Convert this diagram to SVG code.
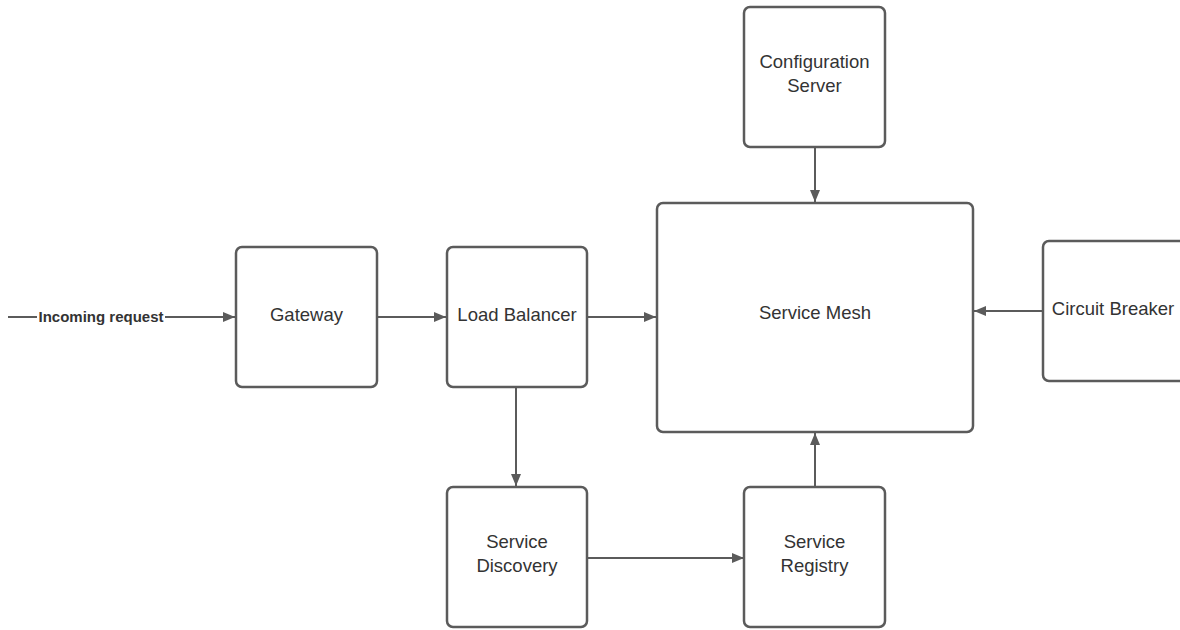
<svg xmlns="http://www.w3.org/2000/svg" width="1180" height="630" viewBox="0 0 1180 630">
<style>
.box{fill:#fff;stroke:#5b5b5b;stroke-width:2.5}
.lbl{font-family:"Liberation Sans",Arial,sans-serif;font-size:18.5px;fill:#333;text-anchor:middle}
.edge{stroke:#5b5b5b;stroke-width:2;fill:none}
.elbl{font-family:"Liberation Sans",Arial,sans-serif;font-size:15px;font-weight:bold;fill:#333;text-anchor:middle}
</style>
<defs>
<marker id="arr" viewBox="0 0 12 10" refX="12" refY="5" markerWidth="12" markerHeight="10" markerUnits="userSpaceOnUse" orient="auto">
<path d="M0,0 L12,5 L0,10 z" fill="#5b5b5b"/>
</marker>
</defs>
<rect width="1180" height="630" fill="#fff"/>
<g id="connectors">
<line class="edge" x1="8" y1="317" x2="235" y2="317" marker-end="url(#arr)"/>
<rect x="37" y="307" width="128" height="19" fill="#fff"/>
<text class="elbl" x="101" y="322">Incoming request</text>
<line class="edge" x1="377" y1="317" x2="446" y2="317" marker-end="url(#arr)"/>
<line class="edge" x1="587" y1="317" x2="656" y2="317" marker-end="url(#arr)"/>
<line class="edge" x1="815" y1="147" x2="815" y2="202" marker-end="url(#arr)"/>
<line class="edge" x1="1042" y1="311" x2="974" y2="311" marker-end="url(#arr)"/>
<line class="edge" x1="516" y1="388" x2="516" y2="486" marker-end="url(#arr)"/>
<line class="edge" x1="587" y1="558" x2="744" y2="558" marker-end="url(#arr)"/>
<line class="edge" x1="815" y1="487" x2="815" y2="433" marker-end="url(#arr)"/>
</g>
<g id="gateway">
<rect class="box" x="236" y="247" width="141" height="140" rx="6"/>
<text class="lbl" x="306.5" y="321">Gateway</text>
</g>
<g id="load-balancer">
<rect class="box" x="447" y="247" width="140" height="140" rx="6"/>
<text class="lbl" x="517" y="321">Load Balancer</text>
</g>
<g id="service-mesh">
<rect class="box" x="657" y="203" width="316" height="229" rx="6"/>
<text class="lbl" x="815" y="319">Service Mesh</text>
</g>
<g id="configuration-server">
<rect class="box" x="744" y="7" width="141" height="140" rx="6"/>
<text class="lbl" x="814.5" y="68">Configuration</text>
<text class="lbl" x="814.5" y="92">Server</text>
</g>
<g id="circuit-breaker">
<rect class="box" x="1043" y="241" width="145" height="140" rx="6"/>
<text class="lbl" x="1113" y="315">Circuit Breaker</text>
</g>
<g id="service-discovery">
<rect class="box" x="447" y="487" width="140" height="140" rx="6"/>
<text class="lbl" x="517" y="548">Service</text>
<text class="lbl" x="517" y="572">Discovery</text>
</g>
<g id="service-registry">
<rect class="box" x="744" y="487" width="141" height="140" rx="6"/>
<text class="lbl" x="814.5" y="548">Service</text>
<text class="lbl" x="814.5" y="572">Registry</text>
</g>
</svg>
